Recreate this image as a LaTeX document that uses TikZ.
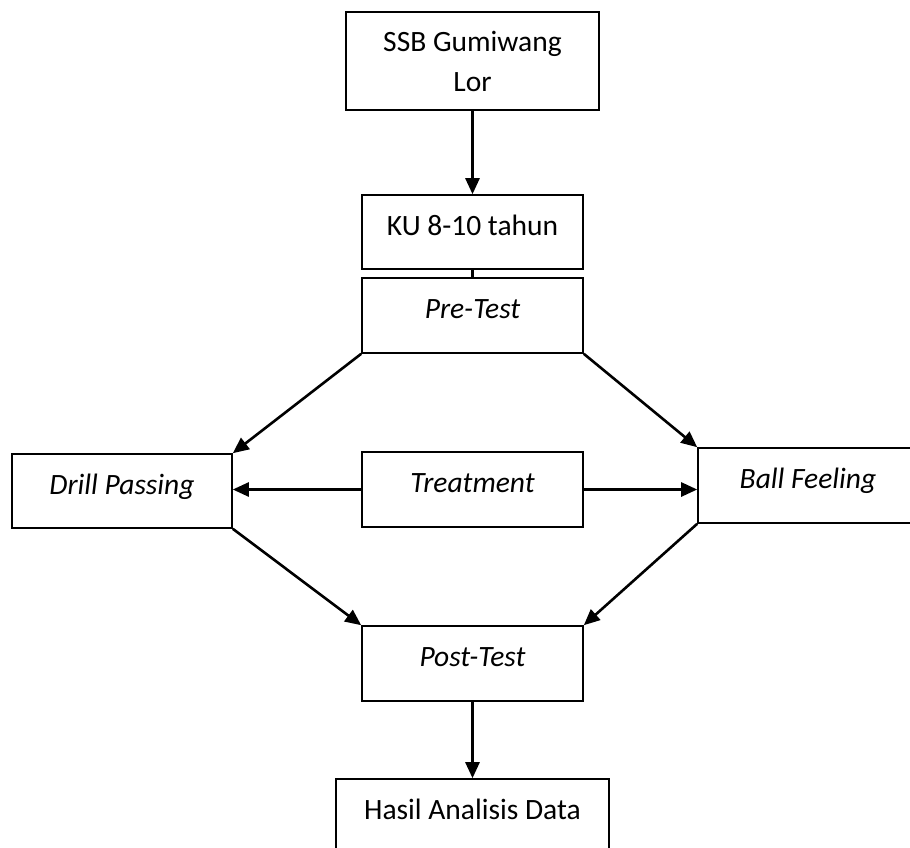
\documentclass[tikz,border=0pt]{standalone}
\usepackage{fontspec}
\setmainfont{Carlito}
\usetikzlibrary{arrows.meta}
\begin{document}
\begin{tikzpicture}[x=1pt,y=-1pt,
  every node/.style={font=\fontsize{29.5}{40}\selectfont},
  box/.style={draw=black,line width=1.6pt,inner sep=0pt,text height=20pt,text depth=14pt,align=center},
  conn/.style={line width=2.6pt,-{Triangle[length=16pt,width=14pt]}},
  plain/.style={line width=2.6pt}]
\useasboundingbox (0,0) rectangle (910,847);
\clip (0,0) rectangle (910,847);
\node[box,minimum width=253pt,minimum height=98pt,text height=,text depth=] (ssb) at (472.5,61) {SSB Gumiwang\\Lor};
\node[box,minimum width=221pt,minimum height=74pt] (ku) at (472.5,232) {KU 8-10 tahun};
\node[box,minimum width=221pt,minimum height=75pt] (pre) at (472.5,315.5) {\itshape Pre-Test};
\node[box,minimum width=220pt,minimum height=74pt] (drill) at (122,491) {\itshape Drill Passing};
\node[box,minimum width=221pt,minimum height=75pt] (treat) at (472.5,489.5) {\itshape Treatment};
\node[box,minimum width=220pt,minimum height=75pt] (ball) at (808,485.5) {\itshape Ball Feeling};
\node[box,minimum width=221pt,minimum height=75pt] (post) at (472.5,663.5) {\itshape Post-Test};
\node[box,minimum width=273pt,minimum height=74pt] (hasil) at (472.5,816) {Hasil Analisis Data};
\draw[conn] (ssb.south) -- (ku.north);
\draw[plain] (ku.south) -- (pre.north);
\draw[conn] (pre.south west) -- (drill.north east);
\draw[conn] (pre.south east) -- (ball.north west);
\draw[conn] (treat.west) -- (treat.west -| drill.east);
\draw[conn] (treat.east) -- (treat.east -| ball.west);
\draw[conn] (drill.south east) -- (post.north west);
\draw[conn] (ball.south west) -- (post.north east);
\draw[conn] (post.south) -- (hasil.north);
\end{tikzpicture}
\end{document}
